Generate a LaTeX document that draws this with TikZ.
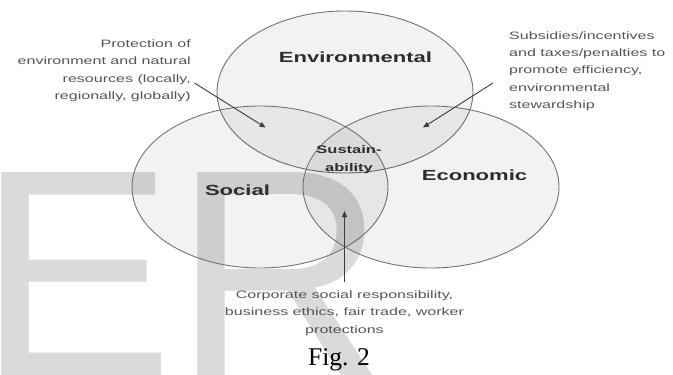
\documentclass[tikz,border=0pt]{standalone}
\usepackage{xcolor}
\usepackage{fontspec}
\setmainfont{Liberation Serif}
\newfontfamily\diagfont[FakeStretch=1.5]{Liberation Sans}
\newfontfamily\markfont{Liberation Sans}
\usepackage{tikz}
\usetikzlibrary{shapes.geometric, arrows.meta, positioning}
\definecolor{ringcolor}{RGB}{115,115,115}
\definecolor{labelcolor}{RGB}{45,45,45}
\definecolor{notecolor}{RGB}{85,85,85}
\definecolor{pointercolor}{RGB}{60,60,60}
\definecolor{markcolor}{RGB}{218,218,218}

\tikzset{
    ring/.style={ellipse, draw=ringcolor, line width=0.9pt, fill=black, fill opacity=0.05,
        draw opacity=1, minimum width=256pt, minimum height=162pt, inner sep=0pt},
    ringlabel/.style={text=labelcolor, font=\diagfont\bfseries\fontsize{14.7}{17}\selectfont,
        inner sep=0pt, anchor=base},
    note/.style={text=notecolor, font=\diagfont\fontsize{10.7}{17.3}\selectfont, inner sep=0pt},
    pointer/.style={draw=pointercolor, line width=0.9pt, -{Triangle[length=6pt, width=5pt]}}
}

\begin{document}
\begin{tikzpicture}[x=1pt, y=-1pt]
    \useasboundingbox (0,0) rectangle (673,375);

    % Watermark letters behind everything
    \node[text=markcolor, font=\markfont\fontsize{295}{295}\selectfont, inner sep=0pt,
        anchor=base west] (mark) at (-23,375) {ER};

    % The three rings
    \node[ring] (env) at (345,92) {};
    \node[ring] (soc) at (260,187) {};
    \node[ring] (eco) at (431,187) {};

    % Ring names (multi-line nodes sit on their last baseline)
    \node[ringlabel] (envname) at (355.5,62.5) {Environmental};
    \node[ringlabel] (socname) at (237.5,195) {Social};
    \node[ringlabel] (econame) at (474.5,180) {Economic};
    \node[ringlabel, align=center, font=\diagfont\bfseries\fontsize{11}{17.7}\selectfont]
        (core) at (349,171) {Sustain-\\ability};

    % Notes round the rings
    \node[note, align=right, anchor=base east] (protect) at (191,99.5)
        {Protection of\\environment and natural\\resources (locally,\\regionally, globally)};
    \node[note, align=left, anchor=base west] (subsidy) at (509,108.3)
        {Subsidies/incentives\\and taxes/penalties to\\promote efficiency,\\environmental\\stewardship};
    \node[note, align=center, anchor=base] (csr) at (344.5,333)
        {Corporate social responsibility,\\business ethics, fair trade, worker\\protections};

    % Pointers into the overlaps
    \coordinate (protecttail) at (194.5,83);
    \coordinate (protecttip) at (265.5,127.5);
    \coordinate (subsidytail) at (493,83);
    \coordinate (subsidytip) at (423,127.5);
    \coordinate (csrtail) at (344.5,282);
    \coordinate (csrtip) at (344.5,211);
    \draw[pointer] (protecttail) -- (protecttip);
    \draw[pointer] (subsidytail) -- (subsidytip);
    \draw[pointer] (csrtail) -- (csrtip);

    % Caption
    \node[font=\fontsize{25.5}{26}\selectfont, inner sep=0pt, anchor=base] (caption) at (339,365) {Fig. 2};
\end{tikzpicture}
\end{document}
